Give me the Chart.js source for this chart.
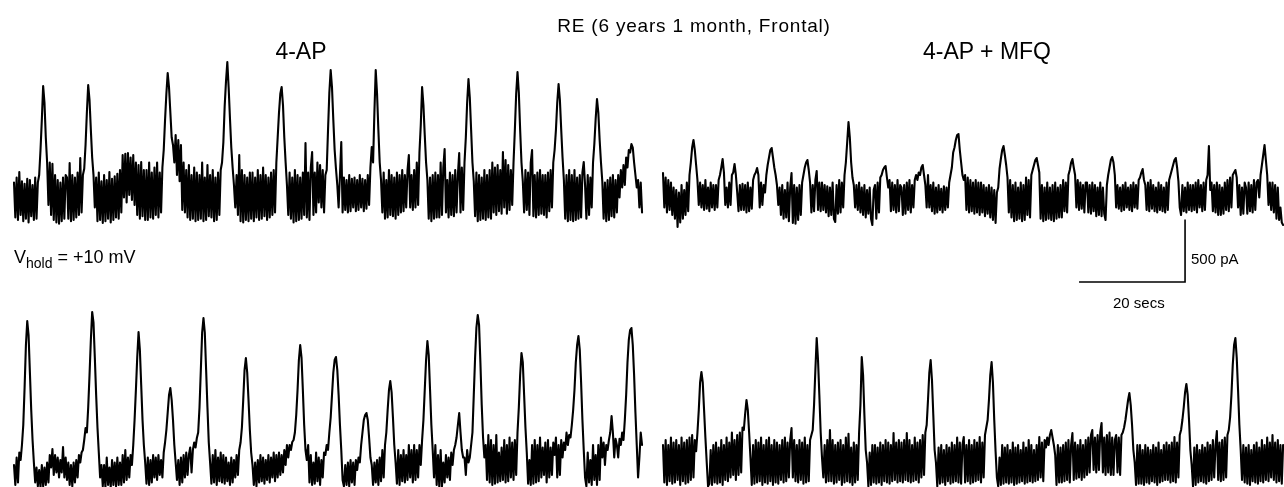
<!DOCTYPE html>
<html>
<head>
<meta charset="utf-8">
<script src="https://cdn.jsdelivr.net/npm/chart.js@4.4.0/dist/chart.umd.min.js"></script>
<style>
  html, body { margin: 0; padding: 0; background: #fff; }
  #wrap { position: relative; width: 1284px; height: 487px; overflow: hidden; font-family: "Liberation Sans", Arial, sans-serif; color: #000; }
  #c { position: absolute; left: 0; top: 0; }
  .t { position: absolute; white-space: nowrap; line-height: 1; }
</style>
</head>
<body>
<div id="wrap">
  <canvas id="c" width="1284" height="487"></canvas>
  <div class="t" style="left:0;width:1388px;text-align:center;top:16px;font-size:19px;letter-spacing:0.8px;">RE (6 years 1 month, Frontal)</div>
  <div class="t" style="left:201px;width:200px;text-align:center;top:40px;font-size:23px;">4-AP</div>
  <div class="t" style="left:887px;width:200px;text-align:center;top:40px;font-size:23px;">4-AP + MFQ</div>
  <div class="t" style="left:14px;top:248px;font-size:18px;">V<sub style="font-size:14px;vertical-align:-5px;">hold</sub> = +10 mV</div>
  <div class="t" style="left:1191px;top:251px;font-size:15px;">500 pA</div>
  <div class="t" style="left:1113px;top:295px;font-size:15px;">20 secs</div>
</div>
<script>
const SAMPLE_S = 0.25;

// Current traces (pA), one value per sample
const apTop = [
140,-140,180,-160,224,-120,150,-170,130,-150,170,-180,160,-130,120,-160,180,-150,140,200,
400,640,912,780,500,300,-40,300,-120,290,-160,200,-180,160,-190,140,-170,180,-150,200,
180,-150,296,-170,200,-160,180,-140,220,-120,336,-100,200,250,440,700,920,800,560,340,
200,-60,180,-170,220,-160,150,-184,200,-170,160,-150,224,-180,170,-160,190,-140,210,-150,
240,-100,360,20,370,-20,376,40,340,0,360,-40,300,-120,280,-150,304,-130,240,-160,
240,-160,300,-140,220,-150,260,-120,300,-140,220,-100,260,400,640,850,1016,900,700,500,
440,300,520,200,480,150,440,-80,300,-100,240,-140,280,-160,200,-150,260,-170,220,-160,
200,-150,300,-170,180,-160,280,-130,200,-140,240,-170,180,-160,220,-120,240,300,460,750,
950,1104,900,650,420,260,120,-60,200,-120,360,-170,240,-180,200,-160,180,-170,220,-150,
220,-170,180,-140,240,-160,200,-150,260,-130,200,-160,180,-140,220,-120,240,-100,300,500,
700,850,904,760,500,300,120,-120,220,-150,180,-180,240,-170,200,-160,180,-150,220,-120,
456,-140,220,-160,260,384,-120,220,-100,300,-20,280,-60,240,-100,200,240,560,860,1040,
900,640,400,250,120,-60,200,464,-100,180,-80,160,-100,200,-90,170,-60,180,-90,160,
-80,200,-60,170,-90,160,-70,200,-40,260,424,300,700,1040,850,560,300,160,-100,220,
-150,160,-140,240,-120,200,-130,180,-150,220,-120,200,-100,240,-90,200,-60,240,360,-60,
200,-80,240,-60,300,-40,380,600,904,760,520,300,160,-150,180,-170,200,-150,220,-140,
200,-140,300,-120,260,408,-100,160,-140,220,-120,200,-130,240,-100,200,376,-100,260,-80,
300,500,780,968,820,560,300,150,-130,220,-170,200,-160,180,-150,240,-160,200,-140,240,
-150,300,-100,260,-120,280,-90,240,-110,384,-60,320,-110,280,-80,240,-40,300,560,850,
1024,860,560,300,150,-100,240,-80,220,-120,300,400,-130,200,-140,220,-120,240,-110,200,
-120,200,-140,220,-90,240,-60,300,400,560,780,928,800,560,340,160,-150,200,-170,240,
-160,200,-170,240,-160,180,-150,200,-140,220,304,120,-150,200,-120,180,-60,300,450,650,
808,700,480,300,150,-150,140,-170,160,-160,180,-130,200,-140,160,-100,200,20,240,100,
280,120,340,260,400,380,448,420,300,200,100,160,-60,140,-100
];

const mfqTop = [
216,-60,180,-100,160,-80,140,-120,100,-150,80,-216,60,-180,120,-150,80,-120,140,-90,
200,300,420,480,400,280,160,-40,140,-60,120,-80,160,-70,100,-90,140,-60,120,-80,
120,-60,160,200,260,328,220,-40,100,-60,140,-40,200,220,288,200,60,-90,120,-80,
130,-80,120,-100,140,-90,100,-70,160,200,220,256,200,-60,140,-40,120,60,200,280,
340,400,416,340,260,200,120,-40,100,-120,120,-150,80,-140,140,-170,100,216,-184,120,
-190,100,-160,120,-120,140,200,260,300,320,240,140,-100,120,-90,160,232,-80,140,-90,
140,-80,120,-100,110,-130,100,-120,140,-150,-176,120,-110,160,-100,140,-60,200,300,460,
624,500,300,180,120,-60,120,-80,140,-100,100,-120,120,-140,80,-110,100,-150,-200,80,
120,-150,140,-100,180,200,240,260,272,180,100,160,-90,140,-80,120,-100,160,-90,120,
100,-120,120,-110,140,-80,160,-100,120,-60,160,200,160,220,200,260,280,200,120,-60,
200,-60,120,-90,140,-110,100,-100,120,-80,90,-100,110,-80,100,-60,140,200,260,380,
420,480,520,528,400,300,200,160,200,-80,180,-100,160,-90,140,-110,160,-100,140,-120,
140,-100,120,-130,100,-110,120,-140,100,-160,80,-184,60,100,250,330,400,432,360,280,
180,-100,160,-140,120,-170,140,-160,100,-150,140,-170,120,-160,180,-120,160,-140,200,240,
280,320,336,280,220,-150,120,-170,100,-160,140,-150,100,-160,120,-170,140,-150,100,-140,
120,-140,160,-90,140,-100,200,240,300,328,260,200,-60,160,-80,140,-70,120,-100,140,
140,-100,120,-110,140,-90,120,-130,100,-120,140,-130,100,-110,-160,120,200,260,320,344,
300,200,-60,120,-70,100,-90,120,-80,140,-60,100,-80,120,-90,140,-60,120,-70,160,
180,220,248,160,120,-80,140,-90,160,-70,120,-90,100,-100,140,-80,120,-90,100,-100,
140,-80,160,200,240,280,320,336,260,150,-60,-120,120,-90,100,-100,140,-80,120,-90,
120,-80,140,-100,160,-60,120,-90,140,-80,160,200,432,80,140,-90,120,-100,140,-120,
120,-120,100,-110,140,-80,160,-90,180,-60,200,220,240,180,-60,120,-120,100,-110,140,
100,-110,140,-90,120,-100,160,-80,140,160,20,200,280,360,440,320,200,-40,140,-80,
140,-100,120,-150,100,-160,-60,-180,-200
];

const apBottom = [
40,-120,100,-100,140,80,200,360,660,1000,1192,1080,780,480,240,60,-100,20,-130,0,
-140,40,-130,20,-120,60,-100,120,20,168,-40,120,-20,100,-60,80,-20,184,-60,100,
-80,60,-120,40,-130,60,-100,80,-60,120,60,140,160,240,336,300,500,760,1040,1264,
1180,900,600,340,140,-60,40,-130,40,-140,100,-120,20,-140,80,-120,60,-130,100,-120,
60,-120,120,-100,160,-80,100,-60,120,40,200,400,640,900,1104,960,680,400,200,60,
-110,100,-120,80,-100,120,-60,100,-80,120,-40,80,-60,140,220,320,460,600,656,560,
400,200,60,-80,80,-120,100,-100,120,-60,140,-40,120,180,-20,160,220,180,256,300,
500,800,1100,1216,1100,800,500,220,60,-110,120,-100,160,-120,100,-90,140,-100,120,-110,
100,-90,60,-120,100,-100,80,-60,120,-40,160,220,340,560,800,896,780,560,320,140,
40,-120,60,-130,80,-100,120,-90,100,-110,80,-80,120,-100,100,-60,140,-90,120,-60,
140,-40,120,-20,160,40,200,100,200,160,224,240,300,440,640,880,1000,900,640,360,
160,80,200,-100,120,-120,60,-110,140,-90,100,-120,80,-60,140,120,200,160,300,420,
600,780,880,904,800,600,360,160,-80,-130,40,-120,60,-130,80,-100,60,-120,80,0,
100,60,200,300,400,440,456,400,260,100,40,-120,60,-100,80,-120,100,-90,160,-60,
200,300,480,640,712,620,420,200,60,-110,160,-120,120,-90,160,-100,120,-80,200,-60,
160,-100,200,-80,160,-60,200,40,240,400,640,880,1032,920,640,360,160,-60,200,-120,
120,-140,160,-130,60,-100,120,-60,100,-80,140,40,160,200,260,360,456,300,160,100,
100,-40,160,60,100,200,300,600,900,1140,1240,1160,860,520,260,100,200,-80,280,-100,
240,-120,200,-110,280,-100,140,-90,180,-80,240,-100,200,-90,260,-60,220,-80,240,-40,
300,500,760,936,860,600,340,140,-110,80,-120,200,-110,240,-100,200,-90,260,-60,180,
-40,220,-100,240,-60,180,-40,220,120,260,-60,200,-40,240,100,220,160,300,200,280,
260,360,480,640,860,1000,1072,960,700,400,160,-60,-130,140,-100,80,-120,200,-80,120,
-120,200,-80,260,100,220,40,200,160,240,300,432,300,100,250,200,100,250,200,300,
240,400,600,860,1040,1120,1136,1000,760,460,200,-60,100,300,200
];

const mfqBottom = [
200,-100,240,-120,200,-90,260,-110,220,-100,240,-80,200,-120,260,-90,220,-110,240,-100,
260,-80,280,-60,240,150,300,480,700,784,700,480,260,60,-130,-110,160,-120,200,-100,
220,-110,180,-100,240,-120,200,-80,260,-90,220,-60,300,-40,240,-80,280,-40,300,-20,
340,320,450,560,480,300,100,-120,200,-110,240,-100,220,-90,260,-120,200,-100,240,-110,
260,-90,200,-120,240,-100,220,-110,200,-80,240,-100,260,-90,220,-60,240,336,-60,240,
-90,200,-100,240,-80,220,-110,260,-100,200,-90,240,280,320,520,800,1056,880,600,300,
100,-60,200,-100,240,-90,320,-90,240,-110,200,-100,220,-80,240,-120,200,-100,260,-90,
290,-100,180,-120,220,-100,200,-80,300,520,904,760,440,160,60,-130,140,-120,200,-100,
200,-110,180,-100,220,-120,200,-90,240,-100,220,-110,200,-90,296,-80,220,-100,240,-90,
220,-100,240,-80,296,-90,240,-100,200,-90,260,-80,220,-100,240,-60,280,-40,300,360,
560,780,880,720,440,160,60,-130,180,-110,200,-100,160,-120,200,-90,180,-110,220,-100,
200,-90,260,-100,220,-110,200,264,-100,200,-90,240,-110,200,-100,240,-90,220,-80,264,
-100,220,-60,280,340,400,560,760,864,700,400,150,-60,-130,100,-120,200,-110,180,-100,
200,-110,160,-100,220,-120,180,-110,200,-100,160,-90,220,-110,180,-100,240,-90,200,-100,
160,-90,200,-80,264,-60,220,-90,240,180,260,200,280,320,260,200,120,-120,200,-100,
180,-100,200,-90,220,-80,240,-100,200,296,-80,220,-70,200,-60,240,-80,200,-60,240,
-40,260,-20,280,320,0,260,-20,280,0,300,376,-20,260,-40,280,-20,300,-40,260,
-40,240,280,-20,260,-40,280,300,340,400,480,560,616,520,360,160,60,-120,200,-110,
200,-110,160,-120,200,-100,180,-110,160,-90,200,-100,180,-120,220,-100,160,-90,200,-80,
220,-80,200,-100,220,-90,264,-100,220,-60,280,320,400,500,620,688,600,400,160,40,
-130,180,-120,200,-100,160,-90,200,-100,180,-110,220,-90,200,-80,240,-60,200,312,-80,
220,-90,240,-80,260,-60,280,320,420,600,840,1000,1056,900,640,360,160,-80,200,-100,
180,-110,200,-120,160,-90,200,-100,220,-110,180,-90,240,-100,200,-80,260,-90,220,-60,
280,-80,220,-100,240,-90,200,-110,200
];

// Scale bar values
const SCALE_TIME_S = 20;
const SCALE_CURRENT_PA = 500;

function toPoints(arr) {
  return arr.map((v, i) => ({ x: i * SAMPLE_S, y: v }));
}

const PX_PER_S = 5.3;      // horizontal scale
const PA_PER_PX = 8;       // vertical scale
const W = 1284, H = 487;

const traceStyle = {
  borderColor: '#000',
  borderWidth: 2.1,
  borderJoinStyle: 'round',
  borderCapStyle: 'round',
  pointRadius: 0,
  tension: 0,
  fill: false
};

const scaleBarAnchor = { x: 98.5, y: -656 };

new Chart(document.getElementById('c'), {
  type: 'line',
  data: {
    datasets: [
      Object.assign({ label: '4-AP top', data: toPoints(apTop), xAxisID: 'xL', yAxisID: 'yT' }, traceStyle),
      Object.assign({ label: '4-AP + MFQ top', data: toPoints(mfqTop), xAxisID: 'xR', yAxisID: 'yT' }, traceStyle),
      Object.assign({ label: '4-AP bottom', data: toPoints(apBottom), xAxisID: 'xL', yAxisID: 'yB' }, traceStyle),
      Object.assign({ label: '4-AP + MFQ bottom', data: toPoints(mfqBottom), xAxisID: 'xR', yAxisID: 'yB' }, traceStyle),
      {
        label: 'scale bar',
        data: [
          { x: scaleBarAnchor.x - SCALE_TIME_S, y: scaleBarAnchor.y },
          { x: scaleBarAnchor.x, y: scaleBarAnchor.y },
          { x: scaleBarAnchor.x, y: scaleBarAnchor.y + SCALE_CURRENT_PA }
        ],
        xAxisID: 'xR', yAxisID: 'yT',
        borderColor: '#000', borderWidth: 1.6, pointRadius: 0, tension: 0,
        borderJoinStyle: 'miter', borderCapStyle: 'butt'
      }
    ]
  },
  options: {
    responsive: false,
    devicePixelRatio: 1,
    animation: false,
    events: [],
    layout: { padding: 0 },
    plugins: { legend: { display: false }, tooltip: { enabled: false }, title: { display: false } },
    scales: {
      xL: { type: 'linear', display: false, min: -14 / PX_PER_S, max: (W - 14) / PX_PER_S },
      xR: { type: 'linear', display: false, min: -663 / PX_PER_S, max: (W - 663) / PX_PER_S },
      yT: { type: 'linear', display: false, min: 1600 - H * PA_PER_PX, max: 1600 },
      yB: { type: 'linear', display: false, min: 3760 - H * PA_PER_PX, max: 3760 }
    }
  }
});
</script>
</body>
</html>
